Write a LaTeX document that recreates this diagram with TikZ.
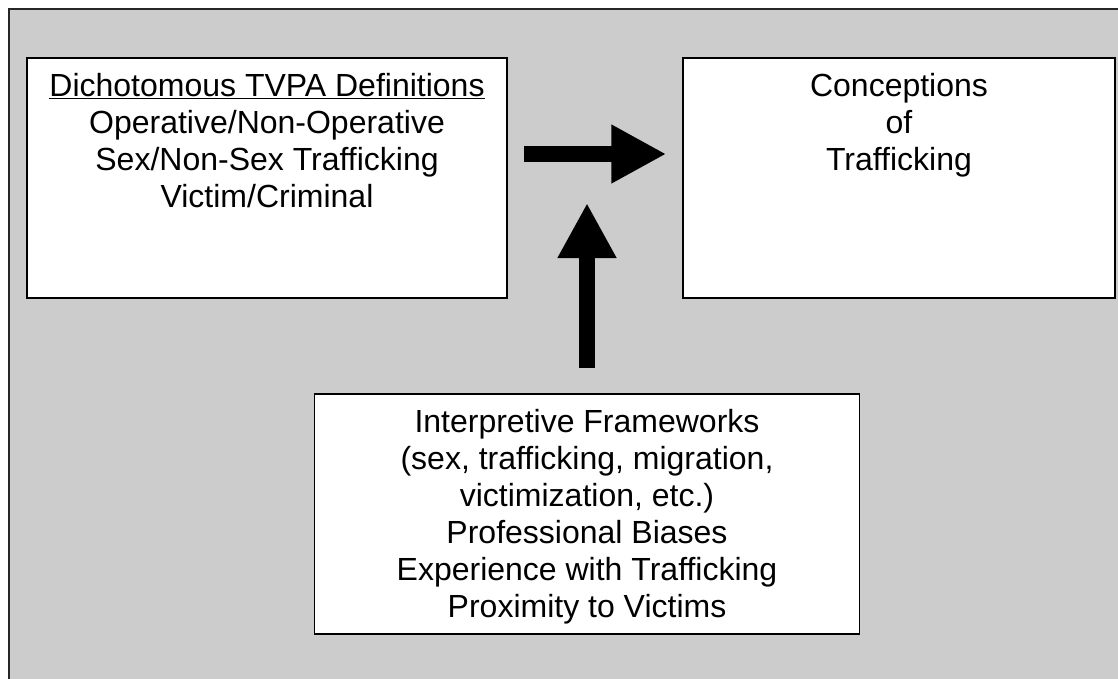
\documentclass[tikz,border=0pt]{standalone}
\usepackage{fontspec}
\setmainfont{Liberation Sans}
\usetikzlibrary{positioning,arrows.meta}
\definecolor{panelgray}{RGB}{204,204,204}
\begin{document}
\begin{tikzpicture}[x=1pt,y=-1pt]
	\tikzstyle{rect1} = [rectangle,draw=black,line width=1.5pt,fill=white,
	minimum height=240pt,inner sep=0pt]
	\tikzstyle{text1} = [inner sep=0pt,align=center,
	font=\fontsize{32pt}{37pt}\selectfont]
	\tikzstyle{arrow1} = [line width=16pt,-{Triangle[length=55pt,width=55pt]}]
	\useasboundingbox (0,0) rectangle (1118,678);
	\clip (0,0) rectangle (1118,678);
	\fill[white] (0,0) rectangle (1118,678);
	\draw[fill=panelgray,draw=black!85,line width=1.5pt] (9,9) rectangle (1140,700);
	% boxes
	\node (node1) [rect1,minimum width=480pt] at (267,178) {};
	\node (node2) [rect1,minimum width=432pt,right of=node1,node distance=632pt] {};
	\node (node3) [rect1,minimum width=545pt] at (587,514) {};
	% texts
	\node (text1) [text1,below=16pt of node1.north] {\underline{Dichotomous TVPA Definitions}\\
	Operative/Non-Operative\\Sex/Non-Sex Trafficking\\Victim/Criminal};
	\node (text2) [text1,below=16pt of node2.north] {Conceptions\\of\\Trafficking};
	\node (text3) [text1,below=16pt of node3.north] {Interpretive Frameworks\\
	(sex, trafficking, migration,\\victimization, etc.)\\Professional Biases\\
	Experience with Trafficking\\Proximity to Victims};
	% arrows
	\coordinate (tip) at (587,203);
	\draw[arrow1,shorten <=16pt,shorten >=16pt] ([yshift=24pt]node1.east) -- ([yshift=24pt]node2.west);
	\draw[arrow1,shorten <=25pt] (node3.north) -- (tip);
\end{tikzpicture}
\end{document}
